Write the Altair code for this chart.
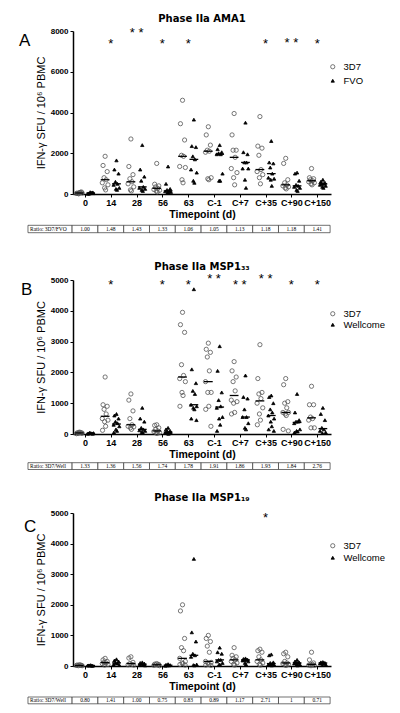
import altair as alt
import pandas as pd

TIMEPOINTS = ["0", "14", "28", "56", "63", "C-1", "C+7", "C+35", "C+90", "C+150"]

# ---------------- Panel A: AMA1 ----------------
A_3D7 = [
    [60, 40, 100, 20, 80, 30, 50, 10, 70],
    [1850, 1400, 1100, 800, 700, 550, 450, 300, 200],
    [2700, 1350, 950, 750, 600, 500, 350, 200, 150],
    [1500, 480, 400, 350, 280, 220, 180, 150, 100],
    [4600, 3450, 2650, 1900, 1850, 1350, 1300, 700, 550],
    [3300, 2900, 2400, 2150, 2100, 2050, 800, 750, 700],
    [3950, 2900, 2150, 2150, 1800, 1250, 1050, 800, 450],
    [3800, 2350, 2250, 1900, 1200, 1100, 950, 800, 500],
    [1750, 1500, 700, 550, 450, 400, 350, 300, 250],
    [1250, 800, 750, 700, 650, 600, 550, 500, 450],
]
A_FVO = [
    [50, 30, 80, 20, 60, 10, 40, 90],
    [1650, 1200, 1000, 600, 500, 450, 300, 250, 200],
    [2400, 1200, 850, 650, 350, 300, 250, 200, 150],
    [1350, 500, 250, 200, 150, 130, 100, 70, 50],
    [3650, 2350, 2300, 1850, 1700, 1200, 1050, 650, 550],
    [2400, 2200, 2050, 2000, 1950, 1950, 1000, 650, 650],
    [3500, 2050, 1950, 1550, 1550, 1250, 1250, 700, 300],
    [2600, 1550, 1500, 1300, 1000, 800, 750, 700, 400],
    [1050, 1000, 650, 450, 400, 350, 300, 200, 150],
    [700, 600, 550, 500, 500, 450, 400, 350, 300],
]
A_STARS = ["", "*", "* *", "*", "*", "", "", "*", "* *", "*"]
A_STAR_Y = [0, 7500, 8050, 7500, 7500, 0, 0, 7500, 7580, 7500]
A_RATIO = ["1.00", "1.48", "1.43", "1.33", "1.06", "1.05", "1.13", "1.18", "1.18", "1.41"]

# ---------------- Panel B: MSP1-33 ----------------
B_3D7 = [
    [60, 40, 30, 20, 50, 10, 30, 40],
    [1850, 950, 900, 800, 650, 500, 450, 400, 250, 120],
    [1300, 1100, 750, 500, 300, 250, 230, 200, 150],
    [300, 280, 200, 150, 100, 80, 50, 30, 20],
    [3950, 3550, 3300, 2250, 1900, 1800, 1700, 1350, 1250, 900],
    [2950, 2750, 2650, 2500, 2050, 1700, 1350, 1350, 900, 800, 250],
    [2350, 2050, 1850, 1700, 1400, 1100, 1050, 1000, 700, 650],
    [2900, 1800, 1350, 1300, 1150, 1000, 850, 650, 450, 300],
    [1800, 1600, 1050, 1000, 850, 700, 700, 650, 600, 150, 100],
    [1550, 950, 950, 550, 500, 450, 200, 200],
]
B_WELL = [
    [30, 20, 10, 40, 20, 10, 30],
    [650, 600, 500, 400, 350, 300, 250, 150, 100, 50],
    [850, 500, 400, 200, 150, 120, 100, 60, 40],
    [200, 150, 100, 80, 60, 40, 30, 20, 10],
    [4700, 2100, 1650, 1400, 1300, 950, 900, 850, 800, 500, 450],
    [2850, 2050, 1350, 1100, 900, 850, 550, 500, 300, 100],
    [1900, 1200, 1150, 800, 550, 550, 350, 200, 150],
    [1250, 1200, 1000, 800, 700, 600, 500, 400, 250, 150, 100],
    [1300, 700, 450, 400, 400, 350, 150, 100, 80, 50],
    [850, 650, 450, 200, 150, 100, 50, 30],
]
B_STARS = ["", "*", "", "*", "*", "* *", "* *", "* *", "*", "*"]
B_STAR_Y = [0, 4950, 0, 4930, 4930, 5120, 4930, 5120, 4930, 4930]
B_RATIO = ["1.33", "1.36", "1.56", "1.74", "1.78", "1.91", "1.86", "1.93", "1.84", "2.76"]

# ---------------- Panel C: MSP1-19 ----------------
C_3D7 = [
    [40, 30, 20, 10, 30, 20, 10],
    [250, 200, 150, 120, 100, 80, 50, 30],
    [300, 260, 120, 80, 50, 40, 30],
    [80, 60, 50, 40, 30, 20, 10],
    [2000, 1800, 900, 600, 500, 250, 150, 100, 80, 50, 30],
    [1000, 900, 800, 650, 450, 150, 120, 100, 50, 30, 20],
    [600, 350, 300, 250, 200, 150, 100, 50, 30],
    [550, 500, 450, 300, 200, 150, 100, 50, 30],
    [450, 400, 300, 150, 100, 80, 60, 30, 20],
    [450, 200, 100, 50, 50, 30, 20, 10],
]
C_WELL = [
    [30, 20, 10, 20, 10, 15],
    [220, 180, 150, 100, 80, 50, 30],
    [120, 100, 80, 60, 50, 30, 20],
    [60, 40, 30, 20, 20, 10],
    [3500, 1100, 800, 400, 350, 300, 50, 30, 20],
    [600, 450, 400, 200, 200, 150, 100, 50, 30],
    [250, 230, 210, 200, 200, 180, 150, 100, 50],
    [380, 350, 120, 100, 80, 50, 40, 30, 20],
    [200, 150, 120, 100, 100, 80, 50, 30, 20],
    [130, 120, 100, 100, 100, 80, 50, 30],
]
C_STARS = ["", "", "", "", "", "", "", "*", "", ""]
C_STAR_Y = [0, 0, 0, 0, 0, 0, 0, 4950, 0, 0]
C_RATIO = ["0.80", "1.41", "1.00", "0.75", "0.83", "0.89", "1.17", "2.71", "1", "0.71"]

# ---------------- layout / style ----------------
FONT = "Liberation Sans"
TITLE_FONT = "DejaVu Sans"
W = 258
XDOM = [-0.465, 9.535]
GROUP_OFF = 0.22
JIT = [0.0, -0.08, 0.08, -0.04, 0.04, -0.11, 0.11, -0.02, 0.02, -0.1, 0.1]
LABEL_EXPR = "[" + ",".join("'%s'" % t for t in TIMEPOINTS) + "][datum.value]"


def points_df(g1, g2, names):
    rows = []
    for i, (a, b) in enumerate(zip(g1, g2)):
        for k, v in enumerate(a):
            rows.append({"tp": i, "group": names[0], "value": v,
                         "pos": i - GROUP_OFF + JIT[k % len(JIT)]})
        for k, v in enumerate(b):
            rows.append({"tp": i, "group": names[1], "value": v,
                         "pos": i + GROUP_OFF + JIT[k % len(JIT)]})
    return pd.DataFrame(rows)


def panel(title, letter, g1, g2, names, ymax, ystep, stars, star_y, h,
          legend_y, row_pad, letter_dx, letter_dy, title_off):
    df = points_df(g1, g2, names)
    xs = alt.Scale(domain=XDOM, nice=False, zero=False)
    ys = alt.Scale(domain=[0, ymax], nice=False, zero=True)
    xax = alt.Axis(values=list(range(10)), labelExpr=LABEL_EXPR, title="Timepoint (d)",
                   grid=False, labelFont=FONT, labelFontWeight="bold", labelFontSize=9,
                   labelColor="black", labelPadding=1, tickSize=3, tickColor="black",
                   domainColor="black", domainWidth=1.5, labelAngle=0,
                   titleFont=FONT, titleFontWeight="bold", titleFontSize=10.5,
                   titleColor="black", titlePadding=2)
    yax = alt.Axis(values=list(range(0, ymax + 1, ystep)), format="d",
                   title="IFN-\u03b3 SFU / 10\u2076 PBMC", grid=False, labelFont=FONT,
                   labelFontWeight="bold", labelFontSize=8, labelColor="black",
                   labelPadding=2, tickSize=3, tickColor="black", domainColor="black",
                   domainWidth=1.5, titleFont=FONT, titleFontWeight="normal",
                   titleFontSize=11, titleColor="black", titlePadding=4)
    leg = alt.Legend(title=None, orient="none", legendX=W - 3, legendY=legend_y,
                     labelFont=FONT, labelFontSize=9.5, labelColor="black",
                     symbolStrokeWidth=0.8, rowPadding=row_pad,
                     labelOffset=6, padding=0)
    dom = names
    pts = alt.Chart(df).mark_point(strokeWidth=0.8, opacity=1).encode(
        x=alt.X("pos:Q", scale=xs, axis=xax),
        y=alt.Y("value:Q", scale=ys, axis=yax),
        shape=alt.Shape("group:N", scale=alt.Scale(domain=dom, range=["circle", "triangle-up"]), legend=leg),
        fill=alt.Fill("group:N", scale=alt.Scale(domain=dom, range=["transparent", "black"]), legend=leg),
        stroke=alt.Stroke("group:N", scale=alt.Scale(domain=dom, range=["#555555", "black"]), legend=leg),
        size=alt.Size("group:N", scale=alt.Scale(domain=dom, range=[18, 11]), legend=leg),
    )
    med = alt.Chart(df).transform_aggregate(
        m="median(value)", groupby=["tp", "group"]
    ).transform_calculate(
        c="datum.tp + (datum.group == '%s' ? %f : %f)" % (names[0], -GROUP_OFF, GROUP_OFF)
    ).transform_calculate(
        x1="datum.c - 0.17", x2="datum.c + 0.17"
    ).mark_rule(color="black", strokeWidth=1.3).encode(
        x=alt.X("x1:Q", scale=xs, axis=xax),
        x2="x2:Q",
        y=alt.Y("m:Q", scale=ys, axis=yax),
    )
    sdf = pd.DataFrame({"tp": list(range(10)), "txt": stars, "sy": star_y})
    sdf = sdf[sdf["txt"] != ""]
    st = alt.Chart(sdf).mark_text(font=FONT, fontSize=13, baseline="middle", dy=3,
                                  color="black").encode(
        x=alt.X("tp:Q", scale=xs, axis=xax),
        y=alt.Y("sy:Q", scale=ys, axis=yax),
        text="txt:N",
    )
    let = alt.Chart(pd.DataFrame({"t": [letter]})).mark_text(
        font=FONT, fontSize=17, align="left", baseline="middle", color="black"
    ).encode(text="t:N", x=alt.value(letter_dx), y=alt.value(letter_dy))
    return alt.layer(pts, med, st, let).properties(
        width=W, height=h,
        title=alt.TitleParams(title, font=TITLE_FONT, fontSize=10, fontWeight="bold",
                              color="black", anchor="middle", frame="group", offset=title_off),
    )


def table(label, ratios, H, top, rh):
    x0 = [-2.21] + [i - 0.5 for i in range(10)]
    x1 = [-0.5] + [i + 0.5 for i in range(10)]
    cells = pd.DataFrame({"x0": x0, "x1": x1, "txt": [label] + ratios,
                          "kind": ["label"] + ["val"] * 10})
    xs = alt.Scale(domain=XDOM, nice=False, zero=False)
    hi = 1 + top / rh
    lo = hi - H / rh
    ysc = alt.Scale(domain=[lo, hi], nice=False, zero=False)
    rect = alt.Chart(cells).mark_rect(fill="white", stroke="#333333", strokeWidth=0.7).encode(
        x=alt.X("x0:Q", scale=xs, axis=None), x2="x1:Q",
        y=alt.YDatum(0, type="quantitative", scale=ysc, axis=None),
        y2=alt.Y2Datum(1),
    )
    vals = alt.Chart(cells).transform_filter("datum.kind == 'val'").transform_calculate(
        xc="(datum.x0 + datum.x1) / 2"
    ).mark_text(font="Liberation Serif", fontSize=5.5, color="black", baseline="middle").encode(
        x=alt.X("xc:Q", scale=xs, axis=None),
        y=alt.YDatum(0.5, type="quantitative", scale=ysc, axis=None),
        text="txt:N",
    )
    lab = alt.Chart(cells).transform_filter("datum.kind == 'label'").mark_text(
        font="Liberation Serif", fontSize=5.5, color="black", align="left", baseline="middle", dx=2
    ).encode(
        x=alt.X("x0:Q", scale=xs, axis=None),
        y=alt.YDatum(0.5, type="quantitative", scale=ysc, axis=None),
        text="txt:N",
    )
    return alt.layer(rect, vals, lab).properties(width=W, height=H)


pA = panel("Phase IIa AMA1", "A", A_3D7, A_FVO, ["3D7", "FVO"], 8000, 2000,
           A_STARS, A_STAR_Y, 163, 31, 3, -54, 10, 3)
tA = table("Ratio: 3D7/FVO", A_RATIO, 86, 31.3, 7.4)
pB = panel("Phase IIa MSP1\u2083\u2083", "B", B_3D7, B_WELL, ["3D7", "Wellcome"], 5000, 1000,
           B_STARS, B_STAR_Y, 154, 29, 0, -52, 10, 1)
tB = table("Ratio: 3D7/Well", B_RATIO, 79, 28.7, 6.8)
pC = panel("Phase IIa MSP1\u2081\u2089", "C", C_3D7, C_WELL, ["3D7", "Wellcome"], 5000, 1000,
           C_STARS, C_STAR_Y, 153, 28, 1, -49, 14, 6)
tC = table("Ratio: 3D7/Well", C_RATIO, 44, 31, 6.8)

chart = alt.vconcat(
    pA, tA, pB, tB, pC, tC, spacing=0, bounds="flush",
    padding={"left": 11, "top": 5, "right": 5, "bottom": 5}, background="white",
).resolve_scale(
    shape="independent", fill="independent", stroke="independent", size="independent"
).configure_view(stroke="transparent", strokeWidth=0)

chart.save("out.html", embed_options={"renderer": "svg", "actions": False})
